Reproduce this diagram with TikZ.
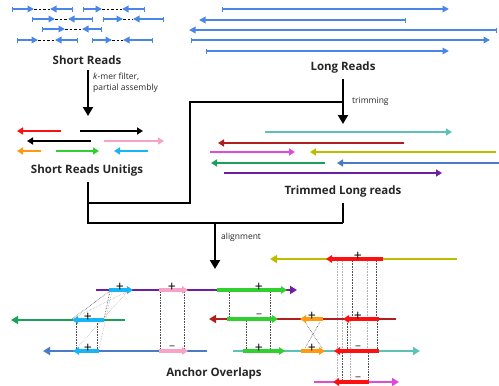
\documentclass[tikz,border=0pt]{standalone}
\usepackage{fontspec}
\setsansfont{Open Sans}
\usetikzlibrary{arrows.meta}

\definecolor{readblue}{HTML}{4A86E8}
\definecolor{uRed}{HTML}{FF1010}
\definecolor{uPink}{HTML}{F6A3C6}
\definecolor{uOrange}{HTML}{FF9A10}
\definecolor{uGreen}{HTML}{2FD02F}
\definecolor{uCyan}{HTML}{18B4F4}
\definecolor{tTeal}{HTML}{5CC2B6}
\definecolor{tDarkRed}{HTML}{B01E1E}
\definecolor{tMagenta}{HTML}{E049E0}
\definecolor{tOlive}{HTML}{BDBD00}
\definecolor{tGreen}{HTML}{1AA05A}
\definecolor{tBlue}{HTML}{4A7BC8}
\definecolor{tPurple}{HTML}{6E1E9E}
\definecolor{labelgray}{HTML}{262626}

\begin{document}
\begin{tikzpicture}[font=\sffamily, x=1pt, y=-1pt,
  sread/.style={readblue, line width=2pt, {Bar[width=5pt,line width=1.2pt]}-{Triangle[width=6.5pt,length=6.5pt]}},
  gap/.style={black, line width=0.9pt, dash pattern=on 2.5pt off 2pt},
  unitig/.style={line width=2pt, -{Triangle[width=7pt,length=6pt]}},
  host/.style={line width=2.2pt, -{Triangle[width=8pt,length=7pt]}},
  seed/.style={line width=3.2pt, -{Triangle[width=7.5pt,length=6pt]}},
  title/.style={font=\sffamily\bfseries\fontsize{11.5}{13}\selectfont, text=labelgray, inner sep=1pt},
  note/.style={font=\sffamily\fontsize{8.5}{11}\selectfont, text=labelgray, inner sep=0pt, align=left},
  flow/.style={line width=2.2pt, black, line join=miter},
  tip/.style={-{Triangle[width=10pt,length=9pt]}},
  link/.style={densely dotted, line width=0.6pt, black!70},
  faint/.style={densely dotted, line width=0.6pt, black!30},
  plus/.style={inner sep=0pt, font=\sffamily\fontsize{14}{14}\selectfont, text=black},
  minus/.style={inner sep=0pt, font=\sffamily\bfseries\fontsize{12}{12}\selectfont, text=black!50}]
  \useasboundingbox (0,0) rectangle (499,386);

  % short reads (pairs)
  \foreach \a/\b/\c/\d/\y in {12/34/50/73/9, 83/102/122/145/9, 32/55/68/93/19, 103/123/133/164/19,
                             42/65/82/102/29, 17/38/55/78/40, 92/112/123/153/40} {
    \draw [gap] (\b,\y) -- (\c,\y);
    \draw [sread] (\a,\y) -- (\b,\y);
    \draw [sread] (\d,\y) -- (\c,\y);
  }
  \node [title] (sr) at (87,60) {Short Reads};

  % long reads
  \draw [sread] (222,9) -- (449,9);
  \draw [sread] (406,20) -- (199,20);
  \draw [sread] (497,30) -- (189,30);
  \draw [sread] (191,40) -- (490,40);
  \draw [sread] (206,51) -- (449,51);
  \node [title] (lr) at (343,68) {Long Reads};

  % unitigs
  \draw [unitig, uRed] (61,131) -- (17,131);
  \draw [unitig, black] (80,131) -- (143,131);
  \draw [unitig, black] (91,141) -- (27,141);
  \draw [unitig, uPink] (104,141) -- (164,141);
  \draw [unitig, uOrange] (41,151) -- (17,151);
  \draw [unitig, uGreen] (56,151) -- (99,151);
  \draw [unitig, uCyan] (148,151) -- (114,151);
  \node [title] (sru) at (87,171) {Short Reads Unitigs};

  % trimmed long reads
  \draw [unitig, tTeal] (265,132) -- (452,132);
  \draw [unitig, tDarkRed] (404,143) -- (218,143);
  \draw [unitig, tMagenta] (210,152) -- (295,152);
  \draw [unitig, tOlive] (496,152) -- (310,152);
  \draw [unitig, tGreen] (325,163) -- (211,163);
  \draw [unitig, tBlue] (500,163) -- (337,163);
  \draw [unitig, tPurple] (224,173) -- (442,173);
  \node [title] (tlr) at (343,192) {Trimmed Long reads};

  % flow
  \coordinate (a1) at (88,116);
  \coordinate (a2) at (343,124);
  \coordinate (b1) at (343,102);
  \coordinate (b2) at (190,203);
  \coordinate (b3) at (88,203);
  \coordinate (j1) at (88,223);
  \coordinate (j2) at (343,223);
  \coordinate (j3) at (215,223);
  \coordinate (a3) at (215,269);
  \draw [flow, tip] (sr.south -| a1) ++(0,4) -- (a1);
  \node [note, anchor=north west] (kmer) at (93,73) {\textit{k}-mer filter,\\partial assembly};
  \draw [flow, tip] (lr.south -| a2) ++(0,4) -- (a2);
  \node [note, anchor=west] (trim) at (352,101) {trimming};
  \draw [flow] (b1) -| (b2) -- (b3);
  \draw [flow] (sru.south -| j1) ++(0,4) -- (j1) -- (j2);
  \draw [flow] (tlr.south -| j2) ++(0,4) -- (j2);
  \draw [flow, tip] (j3) -- (a3);
  \node [note, anchor=west] (align) at (221,237) {alignment};

  % anchor overlaps: dotted links
  \draw [link] (110,291) -- (72,319);
  \draw [faint] (128,291) -- (72,319);
  \draw [link] (110,291) -- (104,319);
  \draw [faint] (112,291) -- (99,349);
  \draw [faint] (128,291) -- (76,349);
  \draw [link] (76,321) -- (76,349);
  \draw [link] (97,321) -- (97,349);
  \draw [link] (160,292) -- (160,349);
  \draw [link] (184,292) -- (184,349);
  \draw [link] (229,292) -- (229,318);
  \draw [link] (270,292) -- (270,349);
  \draw [link] (246,321) -- (246,349);
  \draw [link] (305,322) -- (322,348);
  \draw [link] (320,322) -- (305,348);
  \draw [link] (352,261) -- (352,318);
  \draw [link] (376,261) -- (376,318);
  \draw [faint] (342,261) -- (342,349);
  \draw [faint] (367,261) -- (367,349);
  \draw [faint] (337,261) -- (337,380);
  \draw [link] (347,321) -- (347,349);
  \draw [link] (377,321) -- (377,349);
  \draw [faint] (350,321) -- (350,380);
  \draw [link] (342,353) -- (342,380);
  \draw [link] (368,353) -- (368,380);

  % anchor overlaps: reads
  \draw [host, tPurple] (96,290) -- (297,290);
  \draw [host, tGreen] (125,320) -- (11,320);
  \draw [host, tBlue] (207,351) -- (43,351);
  \draw [host, tDarkRed] (396,319) -- (209,319);
  \draw [host, tTeal] (233,351) -- (420,351);
  \draw [host, tOlive] (457,259) -- (270,259);
  \draw [host, tMagenta] (314,382) -- (399,382);

  % anchor overlaps: unitig seeds
  \draw [seed, uCyan] (109,290) -- (133,290);
  \draw [seed, uPink] (159,290) -- (188,290);
  \draw [seed, uGreen] (217,290) -- (287,290);
  \draw [seed, uCyan] (104,320) -- (72,320);
  \draw [seed, uCyan] (99,351) -- (73,351);
  \draw [seed, uPink] (159,351) -- (188,351);
  \draw [seed, uGreen] (227,319) -- (278,319);
  \draw [seed, uOrange] (323,319) -- (300,319);
  \draw [seed, uRed] (379,319) -- (343,319);
  \draw [seed, uGreen] (243,351) -- (285,351);
  \draw [seed, uOrange] (301,351) -- (325,351);
  \draw [seed, uRed] (379,351) -- (334,351);
  \draw [seed, uRed] (383,259) -- (326,259);
  \draw [seed, uRed] (369,382) -- (333,382);

  % orientation marks
  \foreach \x/\y [count=\i] in {120/287, 172/287, 259/287, 88/317, 88/348, 312/316, 358/316, 259/348, 312/348, 358/256}
    \node [plus] (p\i) at (\x,\y) {+};
  \foreach \x/\y [count=\i] in {172/348, 259/316, 358/348, 358/379}
    \node [minus] (m\i) at (\x,\y) {\char"2013};

  \node [title] (ao) at (214,374) {Anchor Overlaps};
\end{tikzpicture}
\end{document}
